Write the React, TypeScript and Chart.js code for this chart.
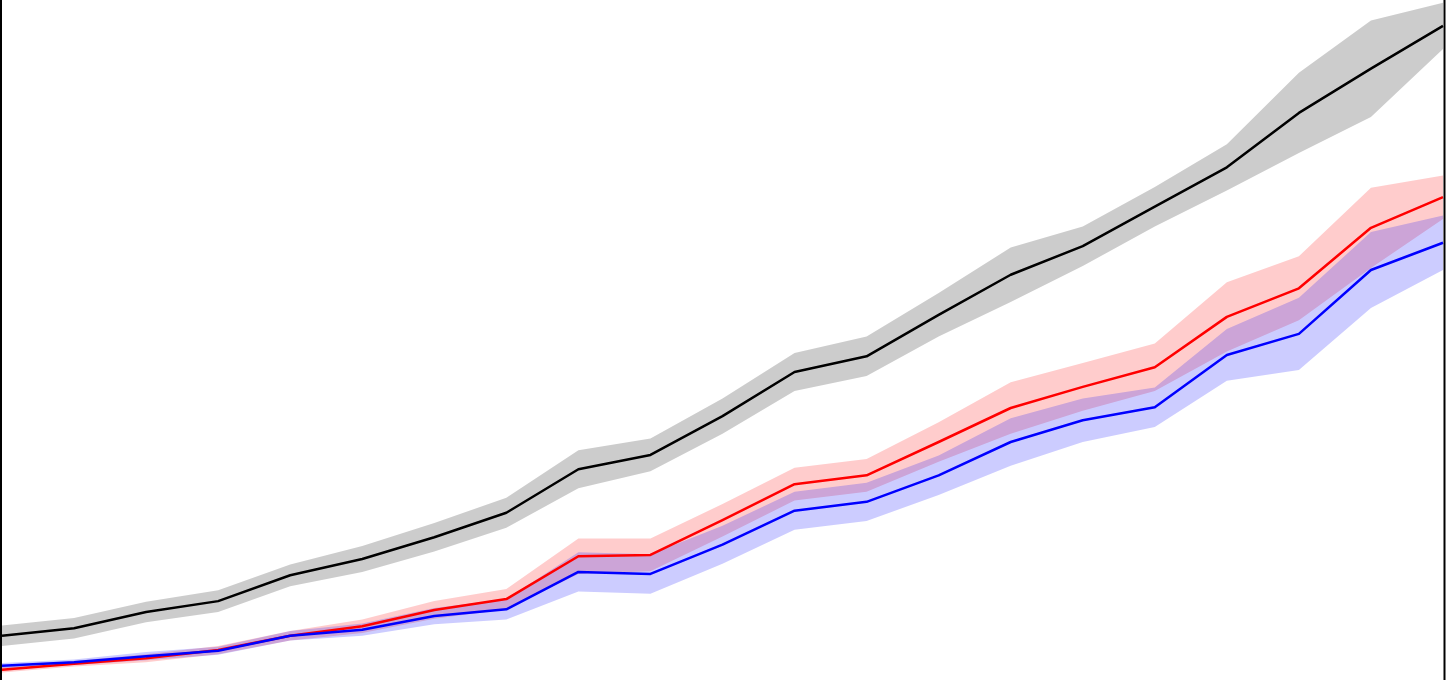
import React, { useEffect, useRef } from "react";
import { Chart, registerables } from "chart.js";

Chart.register(...registerables);

const steps = Array.from({ length: 21 }, (_, i) => String(i));

const blackMean = [6.5, 7.6, 10.0, 11.6, 15.4, 17.8, 21.0, 24.6, 31.0, 33.1, 38.8, 45.3, 47.6, 53.7, 59.6, 63.8, 69.6, 75.4, 83.4, 89.9, 96.2];
const blackStd = [1.5, 1.5, 1.5, 1.6, 1.6, 1.9, 2.1, 2.2, 2.8, 2.4, 2.6, 2.8, 2.9, 3.2, 4.0, 2.9, 2.9, 3.4, 5.9, 7.1, 3.4];

const redMean = [1.5, 2.4, 3.2, 4.4, 6.5, 7.9, 10.3, 11.9, 18.2, 18.4, 23.5, 28.8, 30.1, 35.0, 40.0, 43.1, 46.0, 53.4, 57.6, 66.5, 71.0];
const redStd = [0.4, 0.4, 0.6, 0.6, 0.7, 1.0, 1.3, 1.5, 2.6, 2.4, 2.4, 2.4, 2.4, 2.9, 3.8, 3.5, 3.5, 5.1, 4.7, 5.9, 3.2];

const blueMean = [2.1, 2.6, 3.5, 4.3, 6.5, 7.4, 9.4, 10.4, 15.9, 15.6, 19.9, 24.9, 26.2, 30.1, 35.0, 38.2, 40.1, 47.8, 50.9, 60.3, 64.3];
const blueStd = [0.4, 0.4, 0.6, 0.6, 0.7, 0.9, 1.2, 1.5, 2.9, 2.9, 2.8, 2.8, 2.8, 2.9, 3.5, 3.2, 2.9, 3.8, 5.3, 5.6, 4.0];

const add = (m: number[], s: number[], k: number) => m.map((v, i) => v + k * s[i]);

const spinePlugin = {
  id: "spines",
  afterDraw(chart: any) {
    const { ctx, chartArea } = chart;
    ctx.save();
    ctx.strokeStyle = "#000";
    ctx.lineWidth = 2;
    ctx.beginPath();
    ctx.moveTo(1, 0);
    ctx.lineTo(1, chart.height);
    ctx.moveTo(chartArea.right + 1.5, 0);
    ctx.lineTo(chartArea.right + 1.5, chart.height);
    ctx.stroke();
    ctx.restore();
  },
};

export default function App() {
  const ref = useRef<HTMLCanvasElement | null>(null);
  useEffect(() => {
    document.body.style.margin = "0";
    const band = (m: number[], s: number[], color: string, order: number) => [
      {
        data: add(m, s, 1),
        borderWidth: 0,
        pointRadius: 0,
        backgroundColor: color,
        fill: "+1",
        order,
      },
      {
        data: add(m, s, -1),
        borderWidth: 0,
        pointRadius: 0,
        backgroundColor: color,
        fill: false,
        order,
      },
    ];
    const line = (m: number[], color: string, order: number) => ({
      data: m,
      borderColor: color,
      borderWidth: 2.5,
      pointRadius: 0,
      fill: false,
      tension: 0,
      order,
    });
    const chart = new Chart(ref.current!, {
      type: "line",
      data: {
        labels: steps,
        datasets: [
          line(blueMean, "#0000ff", 0),
          line(redMean, "#ff0000", 1),
          line(blackMean, "#000000", 2),
          ...band(blueMean, blueStd, "rgba(0,0,255,0.2)", 3),
          ...band(redMean, redStd, "rgba(255,0,0,0.2)", 4),
          ...band(blackMean, blackStd, "rgba(0,0,0,0.2)", 5),
        ] as any,
      },
      options: {
        animation: false,
        responsive: false,
        layout: { padding: { left: 2, right: 3, top: 0, bottom: 0 } },
        plugins: { legend: { display: false }, tooltip: { enabled: false } },
        elements: { line: { borderJoinStyle: "round" } },
        scales: {
          x: { type: "category", display: false, offset: false },
          y: { display: false, min: 0, max: 100 },
        },
      },
      plugins: [spinePlugin],
    });
    return () => chart.destroy();
  }, []);
  return (
    <div style={{ width: 1446, height: 680, background: "#fff" }}>
      <canvas ref={ref} width={1446} height={680} style={{ display: "block" }} />
    </div>
  );
}
